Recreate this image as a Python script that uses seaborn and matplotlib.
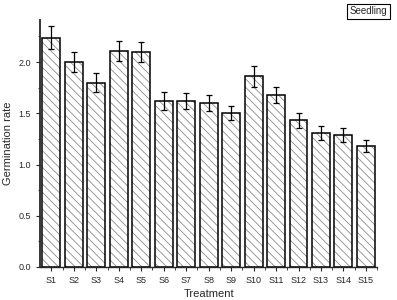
import numpy as np
import pandas as pd
import matplotlib
matplotlib.use("Agg")
import matplotlib.pyplot as plt
import seaborn as sns

# data
treatments = ["S1", "S2", "S3", "S4", "S5", "S6", "S7", "S8",
              "S9", "S10", "S11", "S12", "S13", "S14", "S15"]
germination = [2.24, 2.00, 1.80, 2.11, 2.10, 1.62, 1.62, 1.60,
               1.50, 1.86, 1.68, 1.43, 1.31, 1.29, 1.18]
errors = [0.11, 0.10, 0.09, 0.10, 0.10, 0.09, 0.08, 0.08,
          0.07, 0.10, 0.08, 0.07, 0.07, 0.07, 0.06]
y_ticks = [0.0, 0.5, 1.0, 1.5, 2.0]

sns.set_style("ticks")
plt.rcParams['font.family'] = ['Liberation Sans', 'DejaVu Sans']
plt.rcParams['hatch.linewidth'] = 0.6

df = pd.DataFrame({'Treatment': treatments, 'Germination rate': germination})

fig = plt.figure(figsize=(3.97, 3.0), dpi=100)
ax = fig.add_axes([0.101, 0.11, 0.849, 0.823])

# hatched fill in grey, then black outlines on top
sns.barplot(data=df, x='Treatment', y='Germination rate', ax=ax,
            color='white', edgecolor='#8c8c8c', linewidth=0,
            width=0.8, errorbar=None, hatch='\\\\\\\\')
sns.barplot(data=df, x='Treatment', y='Germination rate', ax=ax,
            fill=False, edgecolor='black', linewidth=1.1,
            width=0.8, errorbar=None)

ax.errorbar(np.arange(len(treatments)), germination, yerr=errors,
            fmt='none', ecolor='black', elinewidth=0.9, capsize=2.2, capthick=0.9)

ax.set_xlim(-0.5, len(treatments) - 0.5)
ax.set_ylim(0, 2.41)
ax.set_yticks(y_ticks)
ax.set_yticklabels([f"{v:.1f}" for v in y_ticks])
ax.yaxis.set_minor_locator(matplotlib.ticker.MultipleLocator(0.25))
ax.set_xticks(np.arange(len(treatments)), minor=False)
ax.set_xticks(np.arange(len(treatments)) + 0.5, minor=True)

ax.tick_params(axis='both', which='major', labelsize=6.5, length=3, width=0.8, direction='out')
ax.tick_params(axis='both', which='minor', length=1.8, width=0.6, direction='out')

ax.set_xlabel('Treatment', fontsize=8, labelpad=3)
ax.set_ylabel('Germination rate', fontsize=8, labelpad=4)

sns.despine(ax=ax)
ax.spines['left'].set_linewidth(1.3)
ax.spines['bottom'].set_linewidth(1.0)

fig.text(0.975, 0.962, 'Seedling', ha='right', va='center', fontsize=7,
         bbox=dict(boxstyle='square,pad=0.25', facecolor='white', edgecolor='black', linewidth=0.8))

fig.savefig('out.png', dpi=100)
